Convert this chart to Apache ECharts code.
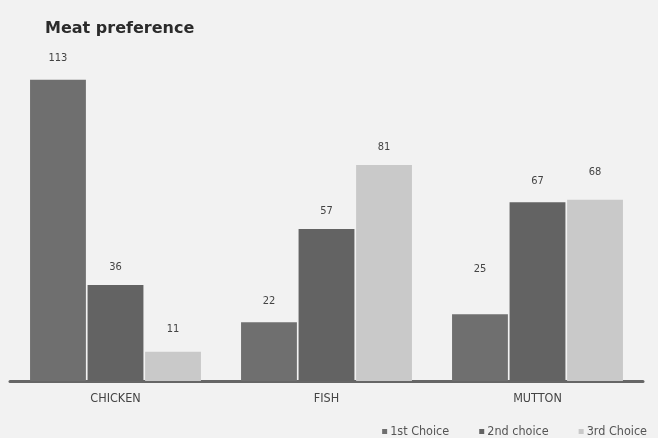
<!DOCTYPE html>
<html>
<head>
<meta charset="utf-8">
<script src="https://cdn.jsdelivr.net/npm/echarts@6/dist/echarts.min.js"></script>
<style>html,body{margin:0;padding:0;background:#f2f2f2;}#c{width:658px;height:438px;}</style>
</head>
<body>
<div id="c"></div>
<script>
var categories = ['CHICKEN', 'FISH', 'MUTTON'];
var seriesNames = ['1st Choice', '2nd choice', '3rd Choice'];
var firstChoice = [113, 22, 25];
var secondChoice = [36, 57, 67];
var thirdChoice = [11, 81, 68];

var colors = ['#6f6f6f', '#636363', '#c9c9c9'];
// label vertical nudges (style only): [seriesIndex][itemIndex]
var labelShift = [[-4, -4, -28], [0, 0, -4], [-5, 0, -10]];

var values = [firstChoice, secondChoice, thirdChoice];
var chart = echarts.init(document.getElementById('c'));
var condensed = '"DejaVu Sans Condensed", "Liberation Sans Narrow", sans-serif';

chart.setOption({
  backgroundColor: '#f2f2f2',
  animation: false,
  title: {
    text: 'Meat preference',
    left: 40, top: 16,
    textStyle: { fontFamily: '"DejaVu Sans", sans-serif', fontWeight: 'bold', fontSize: 16, color: '#2b2b2b' }
  },
  legend: {
    right: 6, top: 420,
    itemWidth: 5, itemHeight: 5, itemGap: 30,
    icon: 'rect',
    textStyle: { fontFamily: condensed, fontSize: 12.5, color: '#555', padding: [0, 0, 0, -2] },
    data: seriesNames
  },
  grid: { left: 10, right: 15, top: 61, bottom: 57 },
  xAxis: {
    type: 'category',
    data: categories,
    axisLine: { lineStyle: { color: '#666', width: 3 } },
    axisTick: { show: false },
    axisLabel: { fontFamily: condensed, fontSize: 12.5, color: '#444', margin: 11 }
  },
  yAxis: {
    type: 'value', min: 0, max: 120,
    show: false,
    splitLine: { show: false }
  },
  series: values.map(function (arr, si) {
    return {
      name: seriesNames[si],
      type: 'bar',
      barCategoryGap: '19%',
      barGap: '3%',
      itemStyle: { color: colors[si] },
      label: {
        show: true, position: 'top', distance: 12,
        fontFamily: condensed, fontSize: 11, color: '#444'
      },
      data: arr.map(function (v, i) {
        return { value: v, label: { offset: [0, labelShift[si][i]] } };
      })
    };
  })
});
</script>
</body>
</html>
